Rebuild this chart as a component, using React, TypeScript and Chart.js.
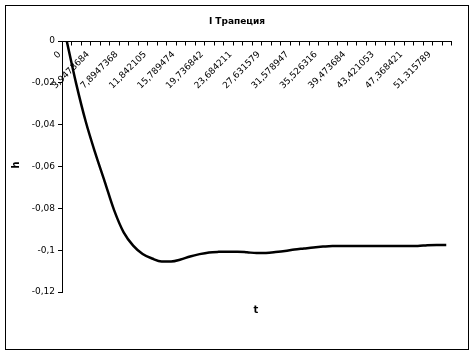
import React, { useEffect, useRef } from "react";
import { Chart, registerables } from "chart.js";

Chart.register(...registerables);

const chartTitle = "I Трапеция";
const xTitle = "t";
const yTitle = "h";

const tLabels = [
  "0", "1,3157895", "2,6315789", "3,9473684", "5,2631579", "6,5789474", "7,8947368",
  "9,2105263", "10,526316", "11,842105", "13,157895", "14,473684", "15,789474",
  "17,105263", "18,421053", "19,736842", "21,052632", "22,368421", "23,684211",
  "25", "26,315789", "27,631579", "28,947368", "30,263158", "31,578947",
  "32,894737", "34,210526", "35,526316", "36,842105", "38,157895", "39,473684",
  "40,789474", "42,105263", "43,421053", "44,736842", "46,052632", "47,368421",
  "48,684211", "50", "51,315789", "52,631579",
];

const hValues = [
  0, -0.0205, -0.0385, -0.0535, -0.0672, -0.081, -0.0915, -0.0978, -0.1018, -0.104,
  -0.1054, -0.1054, -0.1045, -0.103, -0.1019, -0.1011, -0.1008, -0.1007, -0.1007,
  -0.101, -0.1014, -0.1013, -0.1009, -0.1004, -0.0997, -0.0992, -0.0987, -0.0983,
  -0.098, -0.098, -0.098, -0.098, -0.098, -0.098, -0.098, -0.098, -0.098, -0.098,
  -0.0976, -0.0975, -0.0975,
];

const yMin = -0.12;
const yMax = 0;
const yStep = 0.02;
const xLabelEvery = 3;

const FONT = "'DejaVu Sans', sans-serif";

const fmt = (v: number) => String(Math.round(v * 100) / 100).replace(".", ",");

const decorPlugin = {
  id: "decor",
  afterDraw(chart: any) {
    const { ctx, chartArea } = chart;
    const { left, right, top } = chartArea;
    const xs = chart.scales.x;
    const n = tLabels.length;
    const w = (right - left) / n;
    ctx.save();
    // outer border
    ctx.strokeStyle = "#000";
    ctx.lineWidth = 1;
    ctx.strokeRect(5.5, 5.5, 463, 344);
    // x axis line at top (crosses at 0)
    const ay = Math.round(top) + 0.5;
    ctx.beginPath();
    ctx.moveTo(Math.round(left), ay);
    ctx.lineTo(Math.round(right) + 1, ay);
    for (let k = 0; k <= n; k++) {
      const tx = Math.round(left + k * w) + 0.5;
      ctx.moveTo(tx, ay);
      ctx.lineTo(tx, ay + 4);
    }
    ctx.stroke();
    // category labels
    ctx.fillStyle = "#000";
    ctx.font = `9px ${FONT}`;
    ctx.textAlign = "right";
    ctx.textBaseline = "middle";
    for (let i = 0; i < n; i += xLabelEvery) {
      const cx = xs.getPixelForValue(i);
      ctx.save();
      ctx.translate(cx - 7, top + 12);
      ctx.rotate(-Math.PI / 4);
      ctx.fillText(tLabels[i], 0, 0);
      ctx.restore();
    }
    // titles
    ctx.textAlign = "center";
    ctx.textBaseline = "middle";
    ctx.font = `bold 9px ${FONT}`;
    ctx.fillText(chartTitle, 237, 22);
    ctx.font = `bold 10px ${FONT}`;
    ctx.fillText(xTitle, 256, 310);
    ctx.save();
    ctx.translate(16, 165);
    ctx.rotate(-Math.PI / 2);
    ctx.fillText(yTitle, 0, 0);
    ctx.restore();
    ctx.restore();
  },
};

export default function App() {
  const ref = useRef<HTMLCanvasElement>(null);
  useEffect(() => {
    if (!ref.current) return;
    const chart = new Chart(ref.current, {
      type: "line",
      data: {
        labels: tLabels,
        datasets: [
          {
            data: hValues,
            borderColor: "#000",
            borderWidth: 2.5,
            pointRadius: 0,
            cubicInterpolationMode: "monotone",
            fill: false,
          },
        ],
      },
      options: {
        animation: false,
        responsive: false,
        devicePixelRatio: 1,
        layout: { padding: { top: 41, bottom: 62, left: 0, right: 23 } },
        plugins: { legend: { display: false }, tooltip: { enabled: false }, title: { display: false } },
        scales: {
          x: { type: "category", display: false, offset: true },
          y: {
            min: yMin,
            max: yMax,
            afterFit: (s: any) => {
              s.width = 62;
            },
            ticks: {
              stepSize: yStep,
              color: "#000",
              padding: 3,
              font: { size: 9, family: FONT },
              callback: (v: any) => fmt(Number(v)),
            },
            grid: { drawOnChartArea: false, drawTicks: true, tickLength: 4, color: "#000" },
            border: { display: true, color: "#000", width: 1 },
          },
        },
      },
      plugins: [decorPlugin],
    });
    return () => chart.destroy();
  }, []);
  return (
    <div style={{ position: "absolute", left: 0, top: 0, width: 474, height: 354, background: "#fff" }}>
      <canvas ref={ref} width={474} height={354} style={{ width: 474, height: 354, display: "block" }} />
    </div>
  );
}
